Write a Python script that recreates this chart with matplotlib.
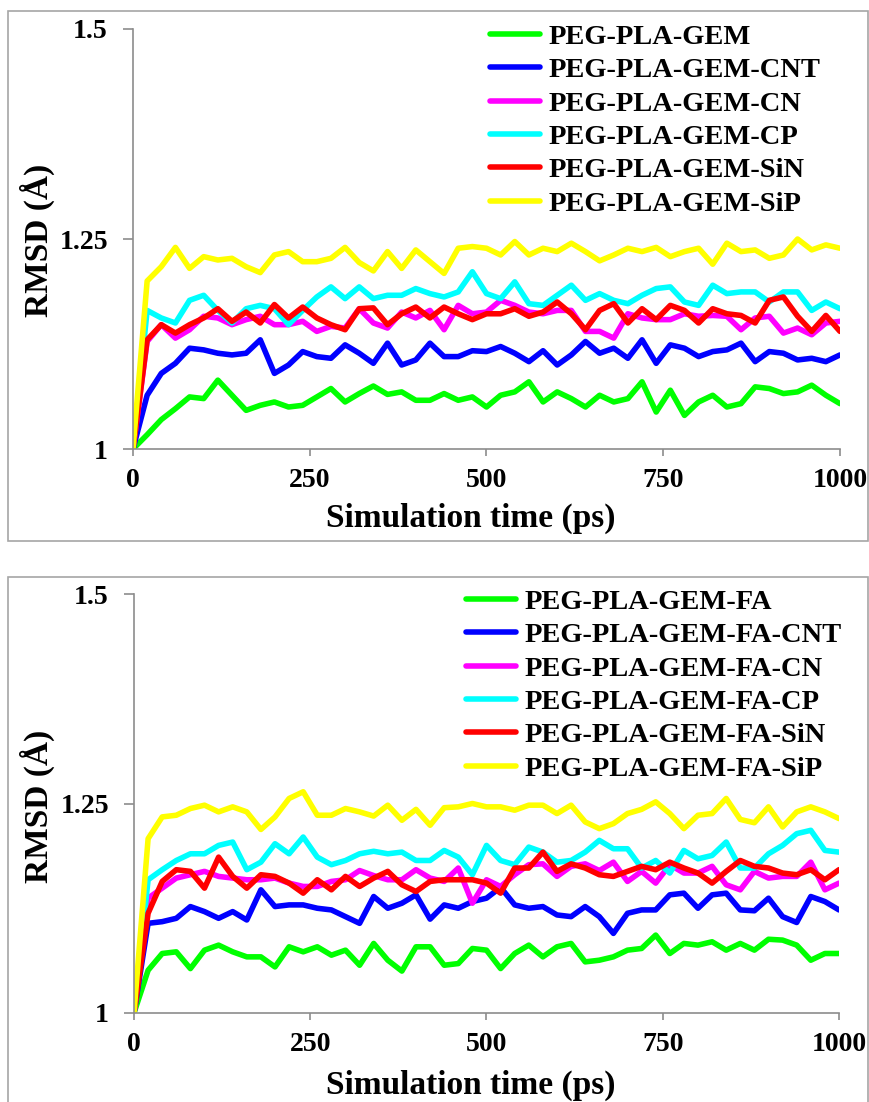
import matplotlib
matplotlib.use("Agg")
import matplotlib.pyplot as plt
from matplotlib.patches import Rectangle

plt.rcParams['font.family'] = ['Liberation Serif', 'DejaVu Serif']
plt.rcParams['font.weight'] = 'bold'

# time axis (ps), one reading every 20 ps
time_ps = list(range(0, 1001, 20))

# top panel
gem = [1.0, 1.017, 1.035, 1.048, 1.062, 1.060, 1.082, 1.064, 1.046, 1.052,
       1.056, 1.050, 1.052, 1.062, 1.072, 1.056, 1.066, 1.075, 1.065, 1.068,
       1.058, 1.058, 1.066, 1.058, 1.062, 1.050, 1.064, 1.068, 1.080, 1.056,
       1.068, 1.060, 1.050, 1.064, 1.056, 1.060, 1.080, 1.044, 1.070, 1.040,
       1.056, 1.064, 1.050, 1.054, 1.074, 1.072, 1.066, 1.068, 1.076, 1.064,
       1.054]
gem_cnt = [1.0, 1.064, 1.090, 1.102, 1.120, 1.118, 1.114, 1.112, 1.114, 1.130,
           1.090, 1.100, 1.116, 1.110, 1.108, 1.124, 1.114, 1.102, 1.126, 1.100,
           1.106, 1.126, 1.110, 1.110, 1.117, 1.116, 1.122, 1.114, 1.104, 1.117,
           1.100, 1.112, 1.128, 1.114, 1.120, 1.108, 1.130, 1.102, 1.124, 1.120,
           1.110, 1.116, 1.118, 1.126, 1.104, 1.116, 1.114, 1.106, 1.108, 1.104,
           1.112]
gem_cn = [1.0, 1.128, 1.148, 1.132, 1.142, 1.158, 1.156, 1.148, 1.154, 1.158,
          1.148, 1.148, 1.152, 1.140, 1.146, 1.144, 1.167, 1.150, 1.144, 1.163,
          1.156, 1.165, 1.142, 1.171, 1.161, 1.163, 1.177, 1.171, 1.163, 1.161,
          1.165, 1.165, 1.140, 1.140, 1.132, 1.161, 1.156, 1.154, 1.154, 1.161,
          1.158, 1.159, 1.158, 1.142, 1.156, 1.158, 1.138, 1.144, 1.136, 1.150,
          1.152]
gem_cp = [1.0, 1.165, 1.156, 1.150, 1.177, 1.183, 1.165, 1.150, 1.167, 1.171,
          1.167, 1.148, 1.165, 1.181, 1.193, 1.179, 1.193, 1.179, 1.183, 1.183,
          1.191, 1.185, 1.181, 1.187, 1.211, 1.185, 1.179, 1.199, 1.173, 1.171,
          1.183, 1.195, 1.177, 1.185, 1.177, 1.173, 1.183, 1.191, 1.193, 1.175,
          1.171, 1.195, 1.185, 1.187, 1.187, 1.175, 1.187, 1.187, 1.165, 1.175,
          1.167]
gem_sin = [1.0, 1.130, 1.148, 1.138, 1.148, 1.156, 1.167, 1.152, 1.163, 1.150,
           1.172, 1.156, 1.169, 1.156, 1.148, 1.142, 1.167, 1.168, 1.148, 1.161,
           1.169, 1.156, 1.169, 1.161, 1.154, 1.161, 1.161, 1.167, 1.158, 1.163,
           1.175, 1.161, 1.142, 1.165, 1.173, 1.150, 1.167, 1.154, 1.171, 1.165,
           1.150, 1.167, 1.161, 1.159, 1.150, 1.177, 1.181, 1.158, 1.140, 1.159,
           1.140]
gem_sip = [1.0, 1.200, 1.217, 1.240, 1.215, 1.229, 1.225, 1.227, 1.217, 1.210,
           1.231, 1.235, 1.223, 1.223, 1.227, 1.240, 1.222, 1.212, 1.235, 1.215,
           1.237, 1.223, 1.209, 1.239, 1.241, 1.239, 1.231, 1.247, 1.231, 1.239,
           1.235, 1.245, 1.235, 1.224, 1.231, 1.239, 1.235, 1.240, 1.229, 1.235,
           1.239, 1.220, 1.245, 1.235, 1.237, 1.227, 1.231, 1.250, 1.237, 1.243,
           1.239]

# bottom panel
fa = [1.0, 1.051, 1.071, 1.073, 1.053, 1.075, 1.081, 1.073, 1.067, 1.067,
      1.055, 1.079, 1.073, 1.079, 1.069, 1.075, 1.057, 1.083, 1.063, 1.050,
      1.079, 1.079, 1.057, 1.059, 1.077, 1.075, 1.053, 1.071, 1.081, 1.067,
      1.079, 1.083, 1.061, 1.063, 1.067, 1.075, 1.077, 1.093, 1.071, 1.083,
      1.081, 1.085, 1.075, 1.083, 1.075, 1.088, 1.087, 1.081, 1.063, 1.071,
      1.071]
fa_cnt = [1.0, 1.107, 1.109, 1.113, 1.127, 1.121, 1.113, 1.121, 1.111, 1.147,
          1.127, 1.129, 1.129, 1.125, 1.123, 1.115, 1.107, 1.139, 1.125, 1.131,
          1.141, 1.112, 1.129, 1.125, 1.133, 1.137, 1.150, 1.129, 1.125, 1.127,
          1.117, 1.115, 1.127, 1.115, 1.095, 1.119, 1.123, 1.123, 1.141, 1.143,
          1.125, 1.141, 1.143, 1.123, 1.122, 1.137, 1.115, 1.108, 1.139, 1.133,
          1.123]
fa_cn = [1.0, 1.137, 1.149, 1.161, 1.165, 1.169, 1.163, 1.161, 1.159, 1.159,
         1.161, 1.155, 1.151, 1.151, 1.157, 1.159, 1.170, 1.164, 1.159, 1.159,
         1.171, 1.161, 1.157, 1.173, 1.131, 1.159, 1.151, 1.165, 1.177, 1.178,
         1.163, 1.175, 1.178, 1.170, 1.180, 1.157, 1.169, 1.155, 1.177, 1.167,
         1.167, 1.175, 1.153, 1.147, 1.169, 1.161, 1.163, 1.163, 1.180, 1.147,
         1.155]
fa_cp = [1.0, 1.159, 1.171, 1.182, 1.190, 1.190, 1.200, 1.204, 1.171, 1.180,
         1.202, 1.190, 1.210, 1.186, 1.177, 1.182, 1.190, 1.193, 1.190, 1.192,
         1.182, 1.182, 1.194, 1.186, 1.165, 1.200, 1.182, 1.177, 1.198, 1.192,
         1.180, 1.182, 1.192, 1.206, 1.196, 1.196, 1.173, 1.182, 1.167, 1.194,
         1.184, 1.188, 1.204, 1.173, 1.173, 1.190, 1.200, 1.214, 1.218, 1.194,
         1.192]
fa_sin = [1.0, 1.119, 1.157, 1.171, 1.169, 1.149, 1.186, 1.163, 1.149, 1.165,
          1.163, 1.155, 1.143, 1.159, 1.147, 1.163, 1.151, 1.161, 1.169, 1.153,
          1.145, 1.157, 1.159, 1.159, 1.159, 1.155, 1.143, 1.173, 1.173, 1.192,
          1.169, 1.178, 1.173, 1.165, 1.163, 1.169, 1.175, 1.171, 1.180, 1.173,
          1.167, 1.155, 1.169, 1.182, 1.175, 1.173, 1.167, 1.165, 1.171, 1.159,
          1.171]
fa_sip = [1.0, 1.208, 1.234, 1.236, 1.244, 1.248, 1.240, 1.246, 1.240, 1.219,
          1.234, 1.256, 1.264, 1.236, 1.236, 1.244, 1.240, 1.235, 1.248, 1.230,
          1.243, 1.224, 1.245, 1.246, 1.250, 1.246, 1.246, 1.242, 1.248, 1.248,
          1.238, 1.248, 1.228, 1.220, 1.226, 1.238, 1.243, 1.252, 1.238, 1.220,
          1.236, 1.238, 1.256, 1.231, 1.227, 1.246, 1.222, 1.240, 1.246, 1.240,
          1.232]

top_labels = ["PEG-PLA-GEM", "PEG-PLA-GEM-CNT", "PEG-PLA-GEM-CN",
              "PEG-PLA-GEM-CP", "PEG-PLA-GEM-SiN", "PEG-PLA-GEM-SiP"]
bottom_labels = ["PEG-PLA-GEM-FA", "PEG-PLA-GEM-FA-CNT", "PEG-PLA-GEM-FA-CN",
                 "PEG-PLA-GEM-FA-CP", "PEG-PLA-GEM-FA-SiN", "PEG-PLA-GEM-FA-SiP"]
colors = ["#00ff00", "#0000ff", "#ff00ff", "#00ffff", "#ff0000", "#ffff00"]

W, H = 870, 1102
AXIS_GRAY = "#8c8c8c"


def draw_panel(ax, series, labels, legend_x):
    for values, label, color in zip(series, labels, colors):
        ax.plot(time_ps, values, color=color, lw=4.0, label=label,
                solid_joinstyle='round', solid_capstyle='round')

    ax.set_xlim(0, 1000)
    ax.set_ylim(1, 1.5)
    ax.set_xticks([0, 250, 500, 750, 1000])
    ax.set_yticks([1, 1.25, 1.5])
    ax.set_yticklabels(["1", "1.25", "1.5"])

    for side in ["top", "right"]:
        ax.spines[side].set_visible(False)
    for side in ["left", "bottom"]:
        ax.spines[side].set_color(AXIS_GRAY)
        ax.spines[side].set_linewidth(1.2)

    ax.tick_params(axis='x', direction='out', length=5, width=1.2, color=AXIS_GRAY,
                   labelsize=20, pad=9)
    ax.tick_params(axis='y', direction='out', length=7, width=1.2, color=AXIS_GRAY,
                   labelsize=20, pad=11)
    for lbl in ax.get_xticklabels() + ax.get_yticklabels():
        lbl.set_fontweight('bold')

    ax.legend(loc='upper left', bbox_to_anchor=(legend_x, 1.012), frameon=False,
              prop={'weight': 'bold', 'size': 20.5}, handlelength=1.75,
              handletextpad=0.3, labelspacing=0.26, borderaxespad=0, borderpad=0)


fig = plt.figure(figsize=(W / 100, H / 100), dpi=100)

# panel frames
fig.patches.append(Rectangle((8 / W, 1 - 541 / H), 860 / W, 530 / H,
                             transform=fig.transFigure, fill=False,
                             ec="#a6a6a6", lw=1.2))
fig.patches.append(Rectangle((8 / W, -0.01), 860 / W, (H - 577) / H + 0.01,
                             transform=fig.transFigure, fill=False,
                             ec="#a6a6a6", lw=1.2))

ax1 = fig.add_axes([133 / W, 1 - 449 / H, 707 / W, 420 / H])
ax2 = fig.add_axes([134 / W, 1 - 1013 / H, 705 / W, 419 / H])

draw_panel(ax1, [gem, gem_cnt, gem_cn, gem_cp, gem_sin, gem_sip], top_labels, 0.505)
draw_panel(ax2, [fa, fa_cnt, fa_cn, fa_cp, fa_sin, fa_sip], bottom_labels, 0.471)

fig.text(471 / W, 1 - 518 / H, "Simulation time (ps)", ha='center', va='center',
         fontsize=24, fontweight='bold')
fig.text(471 / W, 1 - 1085 / H, "Simulation time (ps)", ha='center', va='center',
         fontsize=24, fontweight='bold')
fig.text(37 / W, 1 - 240 / H, "RMSD (Å)", rotation=90, ha='center', va='center',
         fontsize=24, fontweight='bold')
fig.text(37 / W, 1 - 806 / H, "RMSD (Å)", rotation=90, ha='center', va='center',
         fontsize=24, fontweight='bold')

fig.savefig("out.png", dpi=100)
